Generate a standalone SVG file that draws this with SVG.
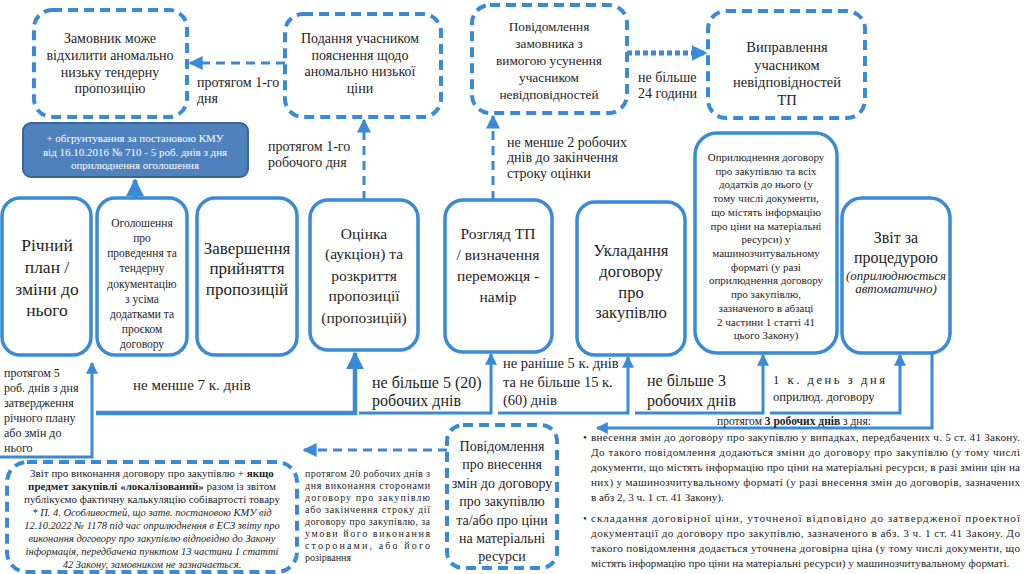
<svg xmlns="http://www.w3.org/2000/svg" width="1024" height="574" viewBox="0 0 1024 574">
<style>
.t{fill:#1e1e1e;font-family:"Liberation Serif","Times New Roman",serif}
.c{text-anchor:middle}
.i{font-style:italic}
.b{font-weight:bold}
.box{fill:#fff;stroke:#3a8ad6;stroke-width:3.5}
.dbox{fill:#fff;stroke:#3a8ad6;stroke-width:4;stroke-dasharray:10 6}
.ln{fill:none;stroke:#3a8ad6;stroke-width:3}
.lnb{fill:none;stroke:#3a8ad6;stroke-width:4.5}
.dl{fill:none;stroke:#3a8ad6;stroke-width:3;stroke-dasharray:9 6}
.dot{fill:none;stroke:#3a8ad6;stroke-width:5;stroke-dasharray:5 3}
</style>
<defs>
<marker id="a" viewBox="0 0 10 10" refX="9" refY="5" markerWidth="12" markerHeight="12" markerUnits="userSpaceOnUse" orient="auto"><path d="M0,0 L10,5 L0,10 z" fill="#3a8ad6"/></marker>
<marker id="aB" viewBox="0 0 10 10" refX="9" refY="5" markerWidth="18" markerHeight="18" markerUnits="userSpaceOnUse" orient="auto"><path d="M0,0 L10,5 L0,10 z" fill="#3a8ad6"/></marker>
<marker id="aD" viewBox="0 0 10 10" refX="9" refY="5" markerWidth="14" markerHeight="14" markerUnits="userSpaceOnUse" orient="auto"><path d="M0,0 L10,5 L0,10 z" fill="#3a8ad6"/></marker>
<marker id="aT" viewBox="0 0 10 10" refX="9" refY="5" markerWidth="16" markerHeight="18" markerUnits="userSpaceOnUse" orient="auto"><path d="M0,0 L10,5 L0,10 z" fill="#3a8ad6"/></marker>
</defs>

<g id="connectors">
<path class="dl" d="M285,63 H190" marker-end="url(#aD)"/>
<path class="dl" d="M364,200 V120" marker-end="url(#aD)"/>
<path class="dl" d="M493,200 V116" marker-end="url(#aD)"/>
<path class="dot" d="M627,53 H706" marker-end="url(#aT)"/>
<path class="lnb" d="M135,198 V180" marker-end="url(#aB)"/>
<path class="ln" d="M0,457 H92 V363" marker-end="url(#a)"/>
<path class="lnb" d="M96,413 H355 V353" marker-end="url(#aB)"/>
<path class="ln" d="M359,413 H491 V354" marker-end="url(#a)"/>
<path class="ln" d="M498,413 H628 V357" marker-end="url(#a)"/>
<path class="ln" d="M635,413 H763 V355" marker-end="url(#a)"/>
<path class="ln" d="M770,413 H900 V355" marker-end="url(#a)"/>
<path class="ln" d="M932,353 V428 H597" marker-end="url(#a)"/>
<path class="dl" d="M447,450 H304" marker-end="url(#aD)"/>
</g>

<g id="n-reject">
<rect class="dbox" x="34" y="10" width="153" height="107" rx="18"/>
<text class="t c" font-size="14"><tspan x="110" y="43">Замовник може</tspan><tspan x="110" y="60">відхилити аномально</tspan><tspan x="110" y="77">низьку тендерну</tspan><tspan x="110" y="93">пропозицію</tspan></text>
</g>
<g id="n-explain">
<rect class="dbox" x="285" y="14" width="156" height="103" rx="18"/>
<text class="t c" font-size="14"><tspan x="360" y="43">Подання учасником</tspan><tspan x="360" y="60">пояснення щодо</tspan><tspan x="360" y="76">аномально низької</tspan><tspan x="360" y="93">ціни</tspan></text>
</g>
<g id="n-notice">
<rect class="dbox" x="472" y="5" width="155" height="108" rx="18"/>
<text class="t c" font-size="13.3"><tspan x="549" y="31">Повідомлення</tspan><tspan x="549" y="48">замовника з</tspan><tspan x="549" y="65">вимогою усунення</tspan><tspan x="549" y="82">учасником</tspan><tspan x="549" y="99">невідповідностей</tspan></text>
</g>
<g id="n-fix">
<rect class="dbox" x="708" y="11" width="157" height="107" rx="18"/>
<text class="t c" font-size="14.5"><tspan x="787" y="52">Виправлення</tspan><tspan x="787" y="70">учасником</tspan><tspan x="787" y="87">невідповідностей</tspan><tspan x="787" y="105">ТП</tspan></text>
</g>
<g id="n-kmu">
<rect x="23" y="123" width="225" height="54" rx="8" fill="#4f81bd" stroke="#3b6497" stroke-width="2"/>
<text class="t c" font-size="11" style="fill:#fff"><tspan x="135" y="142">+ обгрунтування за постановою КМУ</tspan><tspan x="135" y="156">від 16.10.2016 № 710  - 5 роб. днів з дня</tspan><tspan x="135" y="169">оприлюднення оголошення</tspan></text>
</g>

<g id="labels-top">
<text class="t" font-size="14"><tspan x="197" y="87">протягом 1-го</tspan><tspan x="197" y="103">дня</tspan></text>
<text class="t" font-size="14"><tspan x="268" y="151">протягом 1-го</tspan><tspan x="268" y="167">робочого дня</tspan></text>
<text class="t" font-size="14"><tspan x="507" y="147">не менше 2 робочих</tspan><tspan x="507" y="162">днів  до закінчення</tspan><tspan x="507" y="178">строку  оцінки</tspan></text>
<text class="t" font-size="14"><tspan x="638" y="82">не більше</tspan><tspan x="638" y="98">24 години</tspan></text>
</g>

<g id="n-plan">
<rect class="box" x="2" y="198" width="89" height="157" rx="18"/>
<text class="t c" font-size="17.5"><tspan x="47" y="251">Річний</tspan><tspan x="47" y="273">план /</tspan><tspan x="47" y="295">зміни до</tspan><tspan x="47" y="316">нього</tspan></text>
</g>
<g id="n-announce">
<rect class="box" x="97" y="198" width="90" height="157" rx="18"/>
<text class="t c" font-size="11.5"><tspan x="142" y="227">Оголошення</tspan><tspan x="142" y="242">про</tspan><tspan x="142" y="257">проведення та</tspan><tspan x="142" y="272">тендерну</tspan><tspan x="142" y="288">документацію</tspan><tspan x="142" y="303">з усіма</tspan><tspan x="142" y="318">додатками та</tspan><tspan x="142" y="333">проєком</tspan><tspan x="142" y="348">договору</tspan></text>
</g>
<g id="n-finish">
<rect class="box" x="197" y="198" width="100" height="157" rx="18"/>
<text class="t c" font-size="17"><tspan x="247" y="254">Завершення</tspan><tspan x="247" y="274">прийняття</tspan><tspan x="247" y="295">пропозицій</tspan></text>
</g>
<g id="n-eval">
<rect class="box" x="310" y="200" width="108" height="150" rx="18"/>
<text class="t c" font-size="15.5"><tspan x="364" y="239">Оцінка</tspan><tspan x="364" y="259">(аукціон)  та</tspan><tspan x="364" y="281">розкриття</tspan><tspan x="364" y="301">пропозиції</tspan><tspan x="364" y="323">(пропозицій)</tspan></text>
</g>
<g id="n-review">
<rect class="box" x="445" y="200" width="107" height="152" rx="18"/>
<text class="t c" font-size="15.5"><tspan x="498" y="239">Розгляд ТП</tspan><tspan x="498" y="260">/ визначення</tspan><tspan x="498" y="281">переможця -</tspan><tspan x="498" y="302">намір</tspan></text>
</g>
<g id="n-contract">
<rect class="box" x="577" y="202" width="108" height="153" rx="18"/>
<text class="t c" font-size="16.5"><tspan x="631" y="256">Укладання</tspan><tspan x="631" y="277">договору</tspan><tspan x="631" y="298">про</tspan><tspan x="631" y="318">закупівлю</tspan></text>
</g>
<g id="n-publish">
<rect class="box" x="695" y="133" width="142" height="220" rx="22"/>
<text class="t c" font-size="11"><tspan x="766" y="161">Оприлюднення договору</tspan><tspan x="766" y="175">про закупівлю та всіх</tspan><tspan x="766" y="188">додатків до нього (у</tspan><tspan x="766" y="202">тому числі документи,</tspan><tspan x="766" y="216">що містять інформацію</tspan><tspan x="766" y="230">про ціни на матеріальні</tspan><tspan x="766" y="243">ресурси) у</tspan><tspan x="766" y="257">машинозчитувальному</tspan><tspan x="766" y="271">форматі (у разі</tspan><tspan x="766" y="284">оприлюднення договору</tspan><tspan x="766" y="298">про закупівлю,</tspan><tspan x="766" y="312">зазначеного в абзаці</tspan><tspan x="766" y="326">2 частини 1 статті 41</tspan><tspan x="766" y="339">цього Закону)</tspan></text>
</g>
<g id="n-report">
<rect class="box" x="842" y="198" width="108" height="155" rx="20"/>
<text class="t c" font-size="16"><tspan x="896" y="243">Звіт за</tspan><tspan x="896" y="263">процедурою</tspan></text>
<text class="t c i" font-size="13"><tspan x="896" y="280">(оприлюднюється</tspan><tspan x="896" y="293">автоматично)</tspan></text>
</g>

<g id="labels-mid">
<text class="t" font-size="12"><tspan x="4" y="377">протягом 5</tspan><tspan x="4" y="392">роб. днів з дня</tspan><tspan x="4" y="407">затвердження</tspan><tspan x="4" y="422">річного плану</tspan><tspan x="4" y="437">або змін до</tspan><tspan x="4" y="452">нього</tspan></text>
<text class="t" font-size="15" x="133" y="390">не менше 7 к. днів</text>
<text class="t" font-size="16"><tspan x="372" y="388">не більше 5 (20)</tspan><tspan x="372" y="406">робочих днів</tspan></text>
<text class="t" font-size="14.5"><tspan x="503" y="368">не раніше 5  к. днів</tspan><tspan x="503" y="387">та не більше 15  к.</tspan><tspan x="503" y="405">(60)  днів</tspan></text>
<text class="t" font-size="16"><tspan x="647" y="386">не більше 3</tspan><tspan x="647" y="406">робочих днів</tspan></text>
<text class="t" font-size="12.5"><tspan x="773" y="384" textLength="112" lengthAdjust="spacing">1 к. день з дня</tspan><tspan x="773" y="401">оприлюд.  договору</tspan></text>
<text class="t" font-size="11.5" x="717" y="425">протягом <tspan class="b">3 робочих днів</tspan> з  дня:</text>
</g>

<g id="n-change">
<rect class="dbox" x="447" y="425" width="110" height="143" rx="16"/>
<text class="t c" font-size="14"><tspan x="502" y="451">Повідомлення</tspan><tspan x="502" y="469">про внесення</tspan><tspan x="502" y="488">змін до договору</tspan><tspan x="502" y="506">про закупівлю</tspan><tspan x="502" y="525">та/або про ціни</tspan><tspan x="502" y="543">на матеріальні</tspan><tspan x="502" y="561">ресурси</tspan></text>
</g>

<g id="n-execution">
<rect class="dbox" x="7" y="462" width="290" height="110" rx="20"/>
<text class="t c" font-size="11"><tspan x="152" y="477">Звіт про виконання  договору про  закупівлю + <tspan class="b">якщо</tspan></tspan><tspan x="152" y="490"><tspan class="b">предмет закупівлі «локалізований»</tspan> разом із звітом</tspan><tspan x="152" y="503">публікуємо фактичну калькуляцію собівартості товару</tspan></text>
<text class="t c i" font-size="10.5"><tspan x="152" y="516">* П. 4. Особливостей, що затв. постановою КМУ від</tspan><tspan x="152" y="529">12.10.2022 № 1178 під час оприлюднення в ЕСЗ звіту про</tspan><tspan x="152" y="542">виконання договору про закупівлю відповідно до Закону</tspan><tspan x="152" y="555">інформація, передбачена пунктом 13 частини 1 статті</tspan><tspan x="152" y="568">42 Закону, замовником не зазначається.</tspan></text>
</g>

<g id="labels-bottom">
<text class="t" font-size="10"><tspan x="305" y="477" textLength="125" lengthAdjust="spacing">протягом 20 робочих днів з</tspan><tspan x="305" y="489" textLength="125" lengthAdjust="spacing">дня виконання сторонами</tspan><tspan x="305" y="501" textLength="125" lengthAdjust="spacing">договору про закупівлю</tspan><tspan x="305" y="513" textLength="125" lengthAdjust="spacing">або закінчення строку дії</tspan><tspan x="305" y="525" textLength="125" lengthAdjust="spacing">договору про закупівлю, за</tspan><tspan x="305" y="537" textLength="125" lengthAdjust="spacing">умови його виконання</tspan><tspan x="305" y="549" textLength="125" lengthAdjust="spacing">сторонами, або його</tspan><tspan x="305" y="561">розірвання</tspan></text>
<text class="t" font-size="11.2"><tspan x="583" y="441">•</tspan><tspan x="591" y="441" textLength="429" lengthAdjust="spacing">внесення змін до договору про закупівлю у випадках, передбачених ч. 5 ст. 41 Закону.</tspan><tspan x="591" y="456" textLength="429" lengthAdjust="spacing">До такого повідомлення додаються зміни до договору про закупівлю (у тому числі</tspan><tspan x="591" y="471" textLength="429" lengthAdjust="spacing">документи, що містять інформацію про ціни на матеріальні ресурси, в разі зміни цін на</tspan><tspan x="591" y="486" textLength="429" lengthAdjust="spacing">них) у машинозчитувальному форматі (у разі внесення змін до договорів, зазначених</tspan><tspan x="591" y="501">в абз 2, 3 ч. 1 ст. 41 Закону).</tspan><tspan x="583" y="522">•</tspan><tspan x="591" y="522" textLength="429" lengthAdjust="spacing">складання договірної ціни, уточненої відповідно до затвердженої проектної</tspan><tspan x="591" y="537" textLength="429" lengthAdjust="spacing">документації до договору про закупівлю, зазначеного в абз. 3 ч. 1 ст. 41 Закону. До</tspan><tspan x="591" y="552" textLength="429" lengthAdjust="spacing">такого повідомлення додається уточнена договірна ціна (у тому числі документи, що</tspan><tspan x="591" y="567">містять інформацію про ціни на матеріальні ресурси) у машинозчитувальному форматі.</tspan></text>
</g>
</svg>
